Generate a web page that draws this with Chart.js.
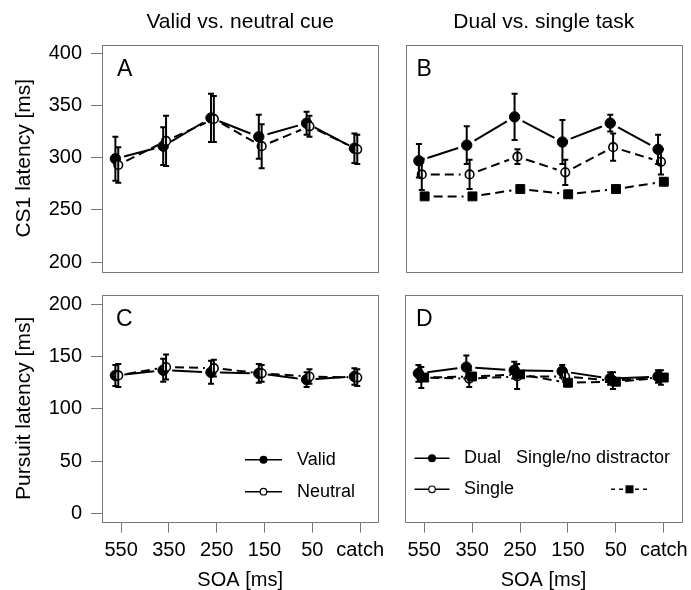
<!DOCTYPE html>
<html lang="en">
<head>
<meta charset="UTF-8">
<title>CS1 and pursuit latency by SOA</title>
<script src="https://cdn.jsdelivr.net/npm/chart.js"></script>
<style>
  body { margin: 0; background: #fff; }
  .wrap { position: relative; width: 691px; height: 590px; }
  .panel { position: absolute; }
</style>
</head>
<body>
<div class="wrap">
  <div class="panel" style="left:0;top:0;width:390px;height:285px"><canvas id="chartA"></canvas></div>
  <div class="panel" style="left:390px;top:0;width:301px;height:285px"><canvas id="chartB"></canvas></div>
  <div class="panel" style="left:0;top:280px;width:390px;height:310px"><canvas id="chartC"></canvas></div>
  <div class="panel" style="left:390px;top:280px;width:301px;height:310px"><canvas id="chartD"></canvas></div>
</div>

<script>
// SOA conditions along x
const categories = ['550', '350', '250', '150', '50', 'catch'];
const yTicksCS1 = [200, 250, 300, 350, 400];
const yTicksPursuit = [0, 50, 100, 150, 200];

// A: CS1 latency, valid vs neutral cue (mean, error)
const cs1Valid = [299, 311, 338, 320, 333, 309];
const cs1ValidErr = [21, 18, 23, 21, 11, 14];
const cs1Neutral = [293, 316, 337, 311, 330, 308];
const cs1NeutralErr = [17, 24, 22, 21, 10, 14];

// B: CS1 latency, dual vs single task
const cs1Dual = [297, 312, 339, 315, 333, 308];
const cs1DualErr = [16, 18, 22, 21, 8, 14];
const cs1Single = [284, 284, 301, 286, 310, 296];
const cs1SingleErr = [15, 14, 7, 12, 13, 12];
const cs1NoDist = [263, 263, 270, 265, 270, 277];
const cs1NoDistErr = [2, 2, 2, 2, 2, 2];

// C: pursuit latency, valid vs neutral cue
const pursuitValid = [132, 137, 135, 134, 128, 131];
const pursuitValidErr = [10, 11, 11, 9, 7, 8];
const pursuitNeutral = [132, 140, 139, 134, 131, 130];
const pursuitNeutralErr = [11, 12, 8, 8, 7, 8];

// D: pursuit latency, dual vs single task
const pursuitDual = [134, 140, 137, 136, 129, 131];
const pursuitDualErr = [8, 11, 8, 6, 6, 6];
const pursuitSingle = [130, 129, 131, 131, 127, 130];
const pursuitSingleErr = [10, 8, 12, 5, 8, 7];
const pursuitNoDist = [130, 131, 133, 125, 126, 130];
const pursuitNoDistErr = [2, 2, 2, 2, 2, 2];

const GRAY = '#777';
const FONT = "'Liberation Sans', Arial, Helvetica, sans-serif";
const GAP = 9; // gap between line ends and points (R type "b")

Chart.defaults.font.family = FONT;
Chart.defaults.color = '#000';
Chart.defaults.animation = false;

function toPts(vals, shift) {
  return vals.map((v, i) => ({ x: i + 1 + shift, y: v }));
}

function filledSeries(vals, errs) {
  return { data: toPts(vals, -0.12), errors: errs, pointStyle: 'circle', pointRadius: 5.2,
    pointBackgroundColor: '#000', pointBorderColor: '#000', pointBorderWidth: 1,
    lineW: 2, dash: [], order: 2 };
}
function openSeries(vals, errs) {
  return { data: toPts(vals, -0.06), errors: errs, pointStyle: 'circle', pointRadius: 4.3,
    pointBackgroundColor: '#fff', pointBorderColor: '#000', pointBorderWidth: 1.6,
    lineW: 2, dash: [9, 5], order: 1 };
}
function squareSeries(vals, errs) {
  return { data: toPts(vals, 0), errors: errs, pointStyle: 'rect', pointRadius: 6.3,
    pointBackgroundColor: '#000', pointBorderColor: '#000', pointBorderWidth: 1,
    lineW: 2, dash: [9, 5], order: 0 };
}

// keep the label overhang from shifting the plot box
function noPad(s) {
  s.paddingTop = 0; s.paddingBottom = 0; s.paddingLeft = 0; s.paddingRight = 0;
}

// box around plot region
const boxPlugin = {
  id: 'box',
  beforeDatasetsDraw(chart) {
    const { ctx, chartArea: a } = chart;
    ctx.save();
    ctx.strokeStyle = GRAY;
    ctx.lineWidth = 1;
    const l = Math.round(a.left) + 0.5, t = Math.round(a.top) + 0.5;
    ctx.strokeRect(l, t, Math.round(a.right) - Math.round(a.left), Math.round(a.bottom) - Math.round(a.top));
    ctx.restore();
  }
};

// connecting lines with gaps around points
const gapLines = {
  id: 'gapLines',
  beforeDatasetsDraw(chart) {
    const ctx = chart.ctx;
    chart.data.datasets.forEach((ds, i) => {
      const pts = chart.getDatasetMeta(i).data;
      ctx.save();
      ctx.strokeStyle = '#000';
      ctx.lineWidth = ds.lineW;
      for (let k = 0; k < pts.length - 1; k++) {
        const p = pts[k], q = pts[k + 1];
        const dx = q.x - p.x, dy = q.y - p.y, len = Math.hypot(dx, dy);
        if (len <= 2 * GAP) continue;
        const ux = dx / len, uy = dy / len;
        ctx.setLineDash(ds.dash);
        ctx.beginPath();
        ctx.moveTo(p.x + ux * GAP, p.y + uy * GAP);
        ctx.lineTo(q.x - ux * GAP, q.y - uy * GAP);
        ctx.stroke();
      }
      ctx.restore();
    });
  }
};

// vertical error bars with small caps
const errorBars = {
  id: 'errorBars',
  afterDatasetsDraw(chart) {
    const ctx = chart.ctx, y = chart.scales.y;
    chart.data.datasets.forEach((ds, i) => {
      if (!ds.errors) return;
      const pts = chart.getDatasetMeta(i).data;
      ctx.save();
      ctx.strokeStyle = '#000';
      ctx.lineWidth = 2;
      pts.forEach((p, k) => {
        const v = ds.data[k].y, e = ds.errors[k];
        const top = y.getPixelForValue(v + e), bot = y.getPixelForValue(v - e);
        ctx.beginPath();
        ctx.moveTo(p.x, top); ctx.lineTo(p.x, bot);
        ctx.moveTo(p.x - 3, top); ctx.lineTo(p.x + 3, top);
        ctx.moveTo(p.x - 3, bot); ctx.lineTo(p.x + 3, bot);
        ctx.stroke();
      });
      ctx.restore();
    });
  }
};

// panel letter and legend entries
const decor = {
  id: 'decor',
  afterDraw(chart, args, opts) {
    const { ctx, chartArea: a } = chart;
    ctx.save();
    ctx.fillStyle = '#000';
    ctx.font = '23px ' + FONT;
    ctx.textBaseline = 'middle';
    ctx.textAlign = 'left';
    ctx.fillText(opts.letter, a.left + opts.lx, a.top + 25);
    (opts.keys || []).forEach(k => {
      const yy = a.bottom + k.y;
      if (k.marker) {
        ctx.strokeStyle = '#000';
        ctx.lineWidth = 1.5;
        ctx.setLineDash(k.dash || []);
        ctx.beginPath();
        ctx.moveTo(a.left + k.x1, yy); ctx.lineTo(a.left + k.x2, yy);
        ctx.stroke();
        ctx.setLineDash([]);
        const mx = a.left + (k.x1 + k.x2) / 2;
        ctx.beginPath();
        if (k.marker === 'filled') {
          ctx.arc(mx, yy, 4, 0, Math.PI * 2); ctx.fill();
        } else if (k.marker === 'open') {
          ctx.arc(mx, yy, 3.3, 0, Math.PI * 2);
          ctx.fillStyle = '#fff'; ctx.fill();
          ctx.fillStyle = '#000'; ctx.lineWidth = 1.2; ctx.stroke();
        } else {
          ctx.fillRect(mx - 4, yy - 4, 8, 8);
        }
      }
      if (k.label) {
        ctx.font = '18px ' + FONT;
        ctx.fillText(k.label, a.left + k.tx, yy);
      }
    });
    ctx.restore();
  }
};

function xScale(show) {
  return {
    type: 'linear', min: 0.6, max: 6.38, display: show,
    afterBuildTicks: s => { s.ticks = categories.map((c, i) => ({ value: i + 1 })); },
    afterFit: s => { noPad(s); if (show) s.height = 68.3; },
    grid: { drawOnChartArea: false, tickLength: 11, color: GRAY },
    border: { display: false },
    ticks: { autoSkip: false, maxRotation: 0, padding: 6, font: { size: 20 },
      callback: v => categories[Math.round(v) - 1] },
    title: { display: show, text: 'SOA [ms]', font: { size: 20 }, padding: { top: 0, bottom: -2 } }
  };
}

function yScale(min, max, ticks, title) {
  const show = !!title;
  return {
    type: 'linear', min: min, max: max, display: show,
    afterBuildTicks: s => { s.ticks = ticks.map(v => ({ value: v })); },
    afterFit: s => { noPad(s); if (show) s.width = 102; },
    grid: { drawOnChartArea: false, tickLength: 11, color: GRAY },
    border: { display: false },
    ticks: { padding: 9, font: { size: 20 } },
    title: { display: show, text: title || '', font: { size: 21 }, padding: { top: 11.4, bottom: 0 } }
  };
}

function headScale(text) {
  return {
    type: 'linear', position: 'top', display: true,
    afterFit: s => { noPad(s); s.height = 44.7; },
    grid: { display: false }, border: { display: false }, ticks: { display: false },
    title: { display: true, text: text, font: { size: 21 }, padding: { top: 9.4, bottom: 0 } }
  };
}

function makeChart(id, datasets, scales, padding, decorOpts) {
  return new Chart(document.getElementById(id), {
    type: 'scatter',
    data: { datasets: datasets },
    options: {
      responsive: true,
      maintainAspectRatio: false,
      layout: { padding: padding, autoPadding: false },
      scales: scales,
      plugins: { legend: { display: false }, tooltip: { enabled: false }, decor: decorOpts }
    },
    plugins: [boxPlugin, gapLines, errorBars, decor]
  });
}

makeChart('chartA',
  [filledSeries(cs1Valid, cs1ValidErr), openSeries(cs1Neutral, cs1NeutralErr)],
  { x: xScale(false), y: yScale(191, 408, yTicksCS1, 'CS1 latency [ms]'), head: headScale('Valid vs. neutral cue') },
  { left: 0, right: 11.7, top: 0, bottom: 13.3 },
  { letter: 'A', lx: 15 });

makeChart('chartB',
  [filledSeries(cs1Dual, cs1DualErr), openSeries(cs1Single, cs1SingleErr), squareSeries(cs1NoDist, cs1NoDistErr)],
  { x: xScale(false), y: yScale(191, 408, yTicksCS1, null), head: headScale('Dual vs. single task') },
  { left: 15.5, right: 9, top: 0, bottom: 13.3 },
  { letter: 'B', lx: 11 });

makeChart('chartC',
  [filledSeries(pursuitValid, pursuitValidErr), openSeries(pursuitNeutral, pursuitNeutralErr)],
  { x: xScale(true), y: yScale(-8, 209, yTicksPursuit, 'Pursuit latency [ms]') },
  { left: 0, right: 11.7, top: 15, bottom: 0 },
  { letter: 'C', lx: 14, keys: [
    { marker: 'filled', x1: 143, x2: 180, y: -62, label: 'Valid', tx: 195 },
    { marker: 'open', x1: 143, x2: 180, y: -30, label: 'Neutral', tx: 195 }
  ] });

makeChart('chartD',
  [filledSeries(pursuitDual, pursuitDualErr), openSeries(pursuitSingle, pursuitSingleErr), squareSeries(pursuitNoDist, pursuitNoDistErr)],
  { x: xScale(true), y: yScale(-8, 209, yTicksPursuit, null) },
  { left: 15, right: 9, top: 15, bottom: 0 },
  { letter: 'D', lx: 11, keys: [
    { marker: 'filled', x1: 9.5, x2: 44.5, y: -63.4, label: 'Dual', tx: 59 },
    { marker: 'open', x1: 9.5, x2: 44.5, y: -32.4, label: 'Single', tx: 59 },
    { label: 'Single/no distractor', tx: 111, y: -63.4 },
    { marker: 'square', x1: 206, x2: 243, y: -32.4, dash: [4, 4] }
  ] });
</script>
</body>
</html>
